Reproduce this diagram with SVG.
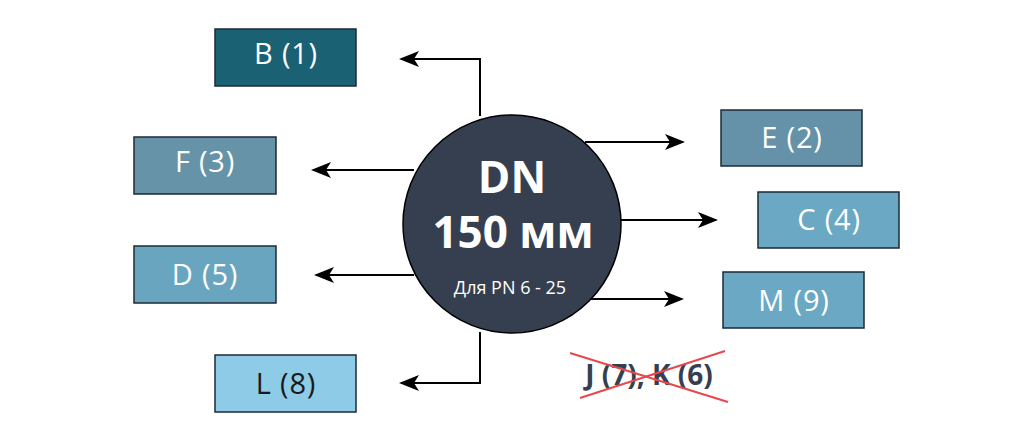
<svg xmlns="http://www.w3.org/2000/svg" width="1024" height="441" viewBox="0 0 1024 441">
<style>
.box{stroke:#1e2a36;stroke-width:1.5}
.lbl{font-family:"Open Sans","Noto Sans",sans-serif;font-size:29px;letter-spacing:0.8px;fill:#ffffff;text-anchor:middle}
.con{fill:none;stroke:#000;stroke-width:2}
</style>
<defs>
<marker id="ah" markerWidth="20" markerHeight="16" viewBox="0 0 20 16" refX="18" refY="8" orient="auto" markerUnits="userSpaceOnUse">
<path d="M0,0 L20,8 L0,16 L5,8 Z" fill="#000"/>
</marker>
</defs>
<rect width="1024" height="441" fill="#ffffff"/>
<g id="connectors">
<path class="con" d="M480,116 V59 H401" marker-end="url(#ah)"/>
<path class="con" d="M414,170 H313" marker-end="url(#ah)"/>
<path class="con" d="M414,275 H316" marker-end="url(#ah)"/>
<path class="con" d="M480,332 V383 H401" marker-end="url(#ah)"/>
<path class="con" d="M585,142 H683" marker-end="url(#ah)"/>
<path class="con" d="M620,220 H716" marker-end="url(#ah)"/>
<path class="con" d="M590,299 H682" marker-end="url(#ah)"/>
</g>
<g id="center">
<circle cx="512" cy="224" r="109" fill="#353f50" stroke="#000" stroke-width="1.5"/>
<text x="512" y="193" font-family="Open Sans, Noto Sans, sans-serif" font-size="44" font-weight="bold" fill="#fff" text-anchor="middle">DN</text>
<text x="513" y="248" font-family="Open Sans, Noto Sans, sans-serif" font-size="44" font-weight="bold" fill="#fff" text-anchor="middle">150 мм</text>
<text x="510" y="294" font-family="Open Sans, Noto Sans, sans-serif" font-size="18" fill="#fff" text-anchor="middle">Для PN 6 - 25</text>
</g>
<g id="B"><rect class="box" x="215" y="29" width="141" height="57" fill="#1b6174"/><text class="lbl" x="286" y="64">B (1)</text></g>
<g id="F"><rect class="box" x="134" y="137" width="142" height="57" fill="#6693a8"/><text class="lbl" x="205" y="172">F (3)</text></g>
<g id="D"><rect class="box" x="134" y="246" width="142" height="57" fill="#6aa5c0"/><text class="lbl" x="205" y="285">D (5)</text></g>
<g id="L"><rect class="box" x="215" y="355" width="141" height="57" fill="#8ecbe6"/><text class="lbl" x="286" y="394" style="fill:#1a1a1a">L (8)</text></g>
<g id="E"><rect class="box" x="721" y="110" width="141" height="56" fill="#6592a8"/><text class="lbl" x="792" y="148">E (2)</text></g>
<g id="C"><rect class="box" x="758" y="192" width="141" height="56" fill="#6aa8c3"/><text class="lbl" x="829" y="230">C (4)</text></g>
<g id="M"><rect class="box" x="723" y="272" width="141" height="56" fill="#6aa8c3"/><text class="lbl" x="794" y="311">M (9)</text></g>
<g id="JK">
<text x="649" y="385" font-family="Open Sans, Noto Sans, sans-serif" font-size="28" font-weight="bold" fill="#353f50" text-anchor="middle">J (7), K (6)</text>
<line x1="570" y1="353" x2="728" y2="402" stroke="#e8474c" stroke-width="2"/>
<line x1="580" y1="398" x2="725" y2="351" stroke="#e8474c" stroke-width="2"/>
</g>
</svg>
